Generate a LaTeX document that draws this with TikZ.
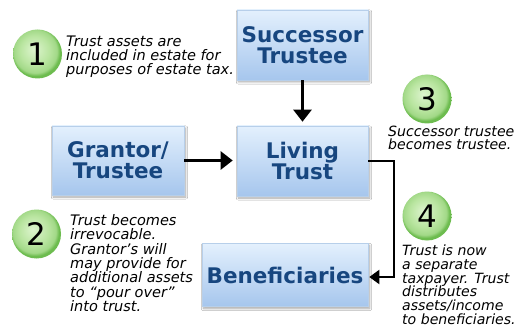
\documentclass[tikz,border=0pt]{standalone}
\usepackage{fontspec}
\setmainfont{DejaVu Sans}
\usetikzlibrary{shadows.blur,arrows.meta}
\definecolor{boxtop}{HTML}{E3F0FD}
\definecolor{boxbot}{HTML}{A6C6ED}
\definecolor{boxline}{HTML}{B7CFEA}
\definecolor{boxtext}{HTML}{17467F}
\definecolor{ballin}{HTML}{DDF4CE}
\definecolor{ballmid}{HTML}{B9E5A0}
\definecolor{ballout}{HTML}{6DBC4F}
\pgfdeclareradialshading{greenball}{\pgfpoint{-4bp}{5bp}}{color(0bp)=(ballin); color(15bp)=(ballmid); color(22bp)=(ballmid!70!ballout); color(25bp)=(ballout); color(50bp)=(ballout)}
\tikzset{
  boxnode/.style={draw=boxline, line width=0.6pt, top color=boxtop, bottom color=boxbot,
    text=boxtext, align=center, inner sep=0pt,
    font=\bfseries\fontsize{21.5}{21}\selectfont,
    blur shadow={shadow xshift=1.5pt, shadow yshift=-2pt, shadow blur steps=6, shadow opacity=35}},
  ballnode/.style={circle, minimum size=49pt, inner sep=0pt, shading=greenball,
    font=\fontsize{31}{31}\selectfont, text=black},
  note/.style={anchor=north west, inner sep=0pt, align=left,
    font=\itshape\fontsize{14.5}{14.3}\selectfont, text=black},
  notesmall/.style={note, font=\itshape\fontsize{14.1}{13.7}\selectfont},
  bigarr/.style={line width=2.6pt, shorten >=4pt, -{Triangle[length=12pt,width=18pt]}},
  smallarr/.style={line width=2pt, shorten >=1pt, -{Triangle[length=10pt,width=14pt]}}
}
\begin{document}
\begin{tikzpicture}[x=1pt,y=-1pt]
\useasboundingbox[fill=white] (0,0) rectangle (516,331);
\node[boxnode, minimum width=131pt, minimum height=70pt] (succ) at (302.5,45) {Successor\\Trustee};
\node[boxnode, minimum width=132pt, minimum height=69pt] (grant) at (118,160.5) {Grantor/\\Trustee};
\node[boxnode, minimum width=131pt, minimum height=70pt] (living) at (302.5,161) {Living\\Trust};
\node[boxnode, minimum width=166pt, minimum height=63pt] (benef) at (285,275) {Beneficiaries};

\node[ballnode] (b1) at (37.5,54) {1};
\node[ballnode] (b2) at (36.5,234) {2};
\node[ballnode] (b3) at (427,99) {3};
\node[ballnode] (b4) at (427,216) {4};

\node[note] (n1) at (66,35.3) {Trust assets are\\included in estate for\\purposes of estate tax.};
\node[note] (n2) at (70,214.3) {Trust becomes\\irrevocable.\\Grantor’s will\\may provide for\\additional assets\\to “pour over”\\into trust.};
\node[notesmall] (n3) at (388,125.5) {Successor trustee\\becomes trustee.};
\node[notesmall] (n4) at (402,244.7) {Trust is now\\a separate\\taxpayer. Trust\\distributes\\assets/income\\to beneficiaries.};

\coordinate (c4) at (394,277);
\draw[bigarr] (succ) -- (living);
\draw[bigarr] (grant.east) -- (grant.east -| living.west);
\draw[smallarr] (living.east) -| (c4) -- (c4 -| benef.east);
\end{tikzpicture}
\end{document}
